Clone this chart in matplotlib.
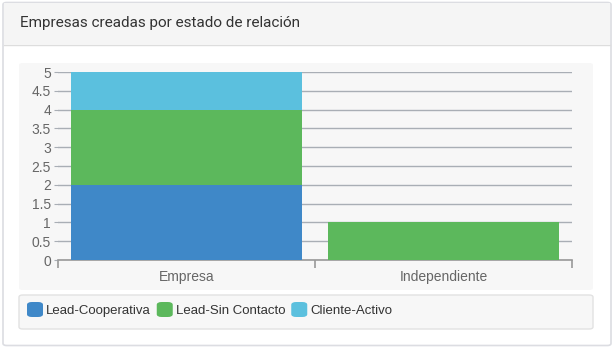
import matplotlib.pyplot as plt
from matplotlib.patches import FancyBboxPatch, Rectangle
import numpy as np

plt.rcParams['font.family'] = ['Liberation Sans', 'DejaVu Sans']

title = "Empresas creadas por estado de relación"
categories = ["Empresa", "Independiente"]
series_names = ["Lead-Cooperativa", "Lead-Sin Contacto", "Cliente-Activo"]
lead_cooperativa = [2, 0]
lead_sin_contacto = [2, 1]
cliente_activo = [1, 0]
colors = ["#3f88c8", "#5cb85c", "#5bc0de"]

W, H = 614, 350
fig = plt.figure(figsize=(W / 100, H / 100), dpi=100)
fig.patch.set_facecolor("white")


def box(x0, y0, x1, y1, z=-5, **kw):
    # pixel coords from top-left -> figure fraction
    return FancyBboxPatch((x0 / W, 1 - y1 / H), (x1 - x0) / W, (y1 - y0) / H,
                          transform=fig.transFigure, zorder=z, **kw)


# card with header strip
fig.patches.append(box(3, 2.5, 611, 345.5, boxstyle="round,pad=0,rounding_size=0.006",
                       fc="white", ec="#dcdde2", lw=1.2))
fig.patches.append(Rectangle((3.6 / W, 1 - 45 / H), 606.8 / W, 42 / H, zorder=-4,
                             transform=fig.transFigure, fc="#f5f5f5", ec="none"))
fig.lines.append(plt.Line2D([3.6 / W, 610.4 / W], [1 - 45 / H] * 2, zorder=-4,
                            transform=fig.transFigure, color="#dddddd", lw=1))
fig.text(20 / W, 1 - 23 / H, title, fontsize=11, color="#333333",
         family=["Roboto", "DejaVu Sans"], va="center", ha="left")

# chart and legend panels
fig.patches.append(box(19, 63, 593, 290, z=-3, boxstyle="round,pad=0,rounding_size=0.006",
                       fc="#f7f7f7", ec="none"))
fig.patches.append(box(19, 295, 593, 329, z=-3, boxstyle="round,pad=0,rounding_size=0.006",
                       fc="#f7f7f7", ec="#e2e2e2", lw=1))

ax = fig.add_axes([58 / W, 1 - 260 / H, (572 - 58) / W, (260 - 72) / H])
ax.set_facecolor("none")
ax.set_zorder(2)

x = np.arange(len(categories))
bottom = np.zeros(len(categories))
for name, vals, c in zip(series_names, [lead_cooperativa, lead_sin_contacto, cliente_activo], colors):
    vals = np.array(vals, dtype=float)
    ax.bar(x, vals, width=0.9, bottom=bottom, color=c, zorder=3, label=name)
    bottom += vals

ax.set_xlim(-0.5, 1.5)
ax.set_ylim(0, 5)
ax.set_yticks(np.arange(0, 5.01, 0.5))
ax.set_yticklabels(["0", "0.5", "1", "1.5", "2", "2.5", "3", "3.5", "4", "4.5", "5"])
ax.yaxis.grid(True, color="#a9aeb5", lw=1, zorder=0)
ax.tick_params(axis="y", length=3, color="#a9aeb5", labelsize=10, labelcolor="#666666", pad=2)

# category ticks at boundaries, labels centred
ax.set_xticks([-0.5, 0.5, 1.5])
ax.set_xticklabels([])
ax.set_xticks(x, minor=True)
ax.set_xticklabels(categories, minor=True)
ax.tick_params(axis="x", which="major", length=6, color="#999999", width=1.2)
ax.tick_params(axis="x", which="minor", length=0, labelsize=10, labelcolor="#666666", pad=7)

for s in ["top", "right", "left"]:
    ax.spines[s].set_visible(False)
ax.spines["bottom"].set_color("#999999")
ax.spines["bottom"].set_linewidth(1.2)

# legend row
lx = 27
for name, c in zip(series_names, colors):
    fig.patches.append(box(lx, 302, lx + 16, 317, z=-1, boxstyle="round,pad=0,rounding_size=0.008",
                           fc=c, ec="none"))
    t = fig.text((lx + 19) / W, 1 - 311 / H, name, fontsize=9.5, color="#333333",
                 va="center", ha="left")
    fig.canvas.draw()
    bb = t.get_window_extent()
    lx = bb.x1 + 6

fig.savefig("out.png", dpi=100)
